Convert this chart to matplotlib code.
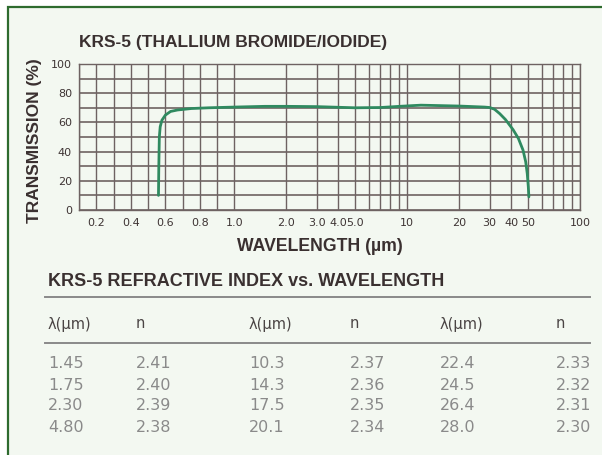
import numpy as np
import matplotlib
matplotlib.use("Agg")
import matplotlib.pyplot as plt
from matplotlib.patches import Rectangle
from matplotlib.lines import Line2D
from matplotlib.ticker import FixedLocator, NullFormatter

# Transmission curve
wavelength = [0.560, 0.562, 0.565, 0.570, 0.580, 0.600, 0.630, 0.670, 0.750, 0.850,
              1.0, 1.5, 2.0, 3.0, 5.0, 7.0, 9.0, 12.0, 20.0, 28.0, 30.0, 32.0,
              34.3, 37.0, 41.0, 44.0, 46.8, 48.5, 49.5, 50.2, 50.6]
transmission = [10, 30, 50, 57, 61.5, 65, 67.5, 68.5, 69.5, 70, 70.5, 71, 71, 70.8,
                70, 70.2, 71, 71.8, 71.2, 70.5, 70.2, 69, 66, 62, 55, 49, 41, 33,
                25, 16, 9]

# axis ticks
grid_x = [0.1, 0.2, 0.3, 0.4, 0.5, 0.6, 0.7, 0.8, 0.9, 1.0,
          2, 3, 4, 5, 6, 7, 8, 9, 10, 20, 30, 40, 50, 60, 70, 80, 90, 100]
label_x = [0.2, 0.4, 0.6, 0.8, 1.0, 2.0, 3.0, 4.0, 5.0, 10, 20, 30, 40, 50, 100]
label_x_text = ["0.2", "0.4", "0.6", "0.8", "1.0", "2.0", "3.0", "4.0", "5.0",
                "10", "20", "30", "40", "50", "100"]
grid_y = [0, 10, 20, 30, 40, 50, 60, 70, 80, 90, 100]
label_y = [0, 20, 40, 60, 80, 100]

# refractive index table
lam_a = [1.45, 1.75, 2.30, 4.80]
n_a = [2.41, 2.40, 2.39, 2.38]
lam_b = [10.3, 14.3, 17.5, 20.1]
n_b = [2.37, 2.36, 2.35, 2.34]
lam_c = [22.4, 24.5, 26.4, 28.0]
n_c = [2.33, 2.32, 2.31, 2.30]


# linear below 1 um, log above
def fwd(x):
    x = np.asarray(x, dtype=float)
    return np.where(x < 1, x - 1, np.log10(np.maximum(x, 1e-9)))


def inv(u):
    u = np.asarray(u, dtype=float)
    return np.where(u < 0, u + 1, 10 ** np.clip(u, -9, 9))


W, H = 602, 455
dark = "#3a3030"
gridc = "#6e6262"
green = "#2f8a60"

fig = plt.figure(figsize=(W / 100, H / 100), dpi=100)
fig.patch.set_facecolor("white")

# green frame (open on the right and bottom)
fig.patches.append(Rectangle((8 / W, -0.1), 1.2, 1 - 7 / H + 0.1,
                             transform=fig.transFigure, facecolor="#f3f8f1",
                             edgecolor="#2e6b2e", linewidth=1.6, zorder=-10))

ax = fig.add_axes([79 / W, 1 - 210 / H, 501 / W, 146 / H])
ax.set_facecolor("none")
ax.set_xscale("function", functions=(fwd, inv))
ax.set_xlim(0.1, 100)
ax.set_ylim(0, 100)

ax.xaxis.set_major_locator(FixedLocator(label_x))
ax.xaxis.set_minor_locator(FixedLocator(grid_x))
ax.xaxis.set_minor_formatter(NullFormatter())
ax.set_xticklabels(label_x_text)
ax.yaxis.set_major_locator(FixedLocator(label_y))
ax.yaxis.set_minor_locator(FixedLocator(grid_y))

ax.tick_params(which="both", length=0, labelsize=8, labelcolor="#3e3434")
ax.tick_params(axis="x", pad=6)
ax.tick_params(axis="y", pad=5)
ax.grid(which="both", axis="x", color=gridc, linewidth=1.0)
ax.grid(which="both", axis="y", color=gridc, linewidth=1.2)
for s in ax.spines.values():
    s.set_color(gridc)
    s.set_linewidth(1.0)

ax.plot(wavelength, transmission, color=green, linewidth=2.0,
        solid_capstyle="round", solid_joinstyle="round", zorder=3)

fig.text(79 / W, 1 - 43 / H, "KRS-5 (THALLIUM BROMIDE/IODIDE)", fontsize=12.5,
         fontweight="bold", family="Liberation Sans", color=dark,
         ha="left", va="center")
fig.text(35 / W, 1 - 141 / H, "TRANSMISSION (%)", fontsize=12.5, rotation=90,
         fontweight="bold", family="Liberation Sans", color=dark,
         ha="center", va="center")
fig.text(320 / W, 1 - 247 / H, "WAVELENGTH (µm)", fontsize=12.7,
         fontweight="bold", family="Liberation Sans", color=dark,
         ha="center", va="center")

# table drawn on a pixel-coordinate axes
tab = fig.add_axes([0, 0, 1, 1])
tab.set_xlim(0, W)
tab.set_ylim(H, 0)
tab.axis("off")
tab.patch.set_alpha(0)

tab.text(48, 282, "KRS-5 REFRACTIVE INDEX vs. WAVELENGTH", fontsize=13,
         fontweight="bold", family="Liberation Sans", color=dark,
         ha="left", va="center")
tab.add_line(Line2D([45, 590], [297, 297], color="#8a8a8a", linewidth=1.4))
tab.add_line(Line2D([45, 590], [343, 343], color="#8a8a8a", linewidth=1.4))

col_x = [48, 136, 249, 350, 440, 556]
headers = ["λ(µm)", "n", "λ(µm)", "n", "λ(µm)", "n"]
for x, h in zip(col_x, headers):
    tab.text(x, 324, h, fontsize=10.5, color="#4a4444", ha="left", va="center")

columns = [[f"{v:.2f}" for v in lam_a], [f"{v:.2f}" for v in n_a],
           [f"{v:.1f}" for v in lam_b], [f"{v:.2f}" for v in n_b],
           [f"{v:.1f}" for v in lam_c], [f"{v:.2f}" for v in n_c]]
row_y0, row_dy = 364, 21
for x, col in zip(col_x, columns):
    for i, s in enumerate(col):
        tab.text(x, row_y0 + i * row_dy, s, fontsize=11.5, color="#8a8a8a",
                 ha="left", va="center")

fig.savefig("out.png", dpi=100)
